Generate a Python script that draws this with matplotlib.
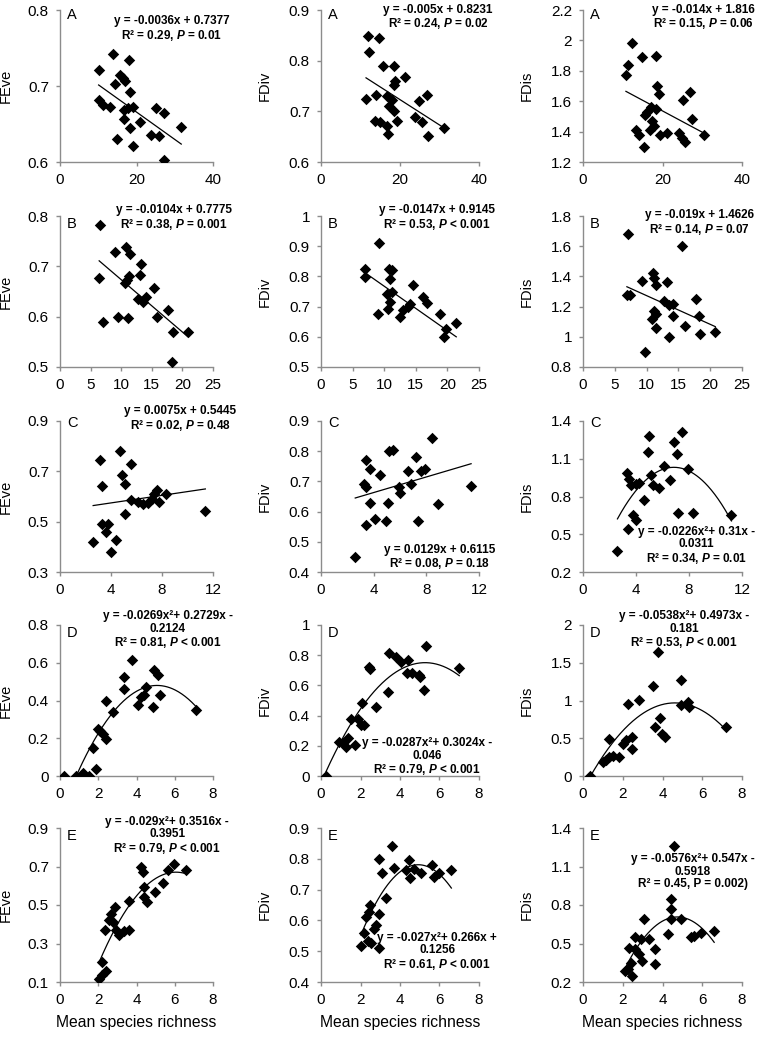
import numpy as np
import matplotlib
matplotlib.use("Agg")
import matplotlib.pyplot as plt
from matplotlib.ticker import FuncFormatter

plt.rcParams["font.family"] = ["Liberation Sans", "DejaVu Sans"]
plt.rcParams["mathtext.fontset"] = "custom"
plt.rcParams["mathtext.rm"] = "Liberation Sans:bold"
plt.rcParams["mathtext.it"] = "Liberation Sans:italic:bold"

# ---- row A ----
a_feve_x = [10.2, 13.9, 18.1, 15.7, 16.5, 17.1, 14.3, 10.1, 11.3, 13.0, 18.2, 16.7, 17.8,
            19.0, 16.7, 21.0, 18.4, 25.0, 27.2, 31.7, 23.9, 25.8, 14.8, 19.0, 27.2]
a_feve_y = [0.721, 0.742, 0.734, 0.714, 0.711, 0.707, 0.703, 0.681, 0.675, 0.673, 0.692, 0.669, 0.671,
            0.672, 0.656, 0.652, 0.645, 0.671, 0.664, 0.646, 0.636, 0.634, 0.630, 0.621, 0.603]
a_fdiv_x = [11.9, 14.6, 12.2, 15.7, 18.4, 18.8, 18.4, 21.3, 11.4, 14.0, 16.7, 17.9, 17.1,
            18.4, 19.2, 15.0, 13.7, 16.8, 16.9, 24.7, 26.8, 23.7, 25.5, 27.0, 31.2]
a_fdiv_y = [0.849, 0.844, 0.817, 0.789, 0.789, 0.759, 0.751, 0.768, 0.724, 0.733, 0.731, 0.723, 0.711,
            0.700, 0.680, 0.678, 0.680, 0.672, 0.655, 0.720, 0.733, 0.689, 0.678, 0.652, 0.668]
a_fdis_x = [12.3, 11.2, 10.8, 14.8, 18.4, 18.6, 19.2, 25.2, 27.0, 27.3, 17.1, 16.1, 18.4,
            15.7, 17.4, 17.8, 16.9, 13.4, 14.0, 19.3, 21.1, 24.1, 24.9, 25.7, 15.4, 30.4]
a_fdis_y = [1.98, 1.84, 1.77, 1.89, 1.90, 1.70, 1.65, 1.61, 1.66, 1.48, 1.56, 1.53, 1.55,
            1.51, 1.47, 1.44, 1.41, 1.41, 1.38, 1.38, 1.39, 1.39, 1.36, 1.33, 1.30, 1.38]

# ---- row B ----
b_feve_x = [6.5, 6.4, 7.1, 9.0, 10.8, 11.4, 10.9, 11.3, 9.5, 11.1, 13.3, 13.0, 12.8,
            13.6, 14.1, 15.3, 15.8, 17.7, 18.4, 20.9, 18.3, 10.6]
b_feve_y = [0.783, 0.677, 0.589, 0.728, 0.738, 0.725, 0.672, 0.680, 0.599, 0.598, 0.705, 0.682, 0.636,
            0.629, 0.639, 0.656, 0.599, 0.613, 0.570, 0.570, 0.510, 0.667]
b_fdiv_x = [9.1, 6.9, 7.0, 9.0, 10.8, 11.3, 10.9, 10.4, 11.2, 10.9, 10.6, 12.5, 13.0,
            13.8, 14.1, 14.5, 16.2, 16.8, 18.9, 19.7, 19.4, 21.4]
b_fdiv_y = [0.911, 0.826, 0.798, 0.677, 0.826, 0.820, 0.792, 0.743, 0.748, 0.715, 0.693, 0.666, 0.688,
            0.699, 0.708, 0.770, 0.732, 0.712, 0.677, 0.627, 0.599, 0.646]
b_fdis_x = [7.0, 6.9, 7.4, 9.3, 11.0, 11.2, 11.5, 13.2, 12.8, 13.5, 14.2, 14.1, 11.2,
            10.8, 11.4, 11.5, 13.5, 9.8, 15.5, 16.0, 17.7, 18.3, 18.4, 20.8]
b_fdis_y = [1.68, 1.28, 1.28, 1.37, 1.42, 1.39, 1.34, 1.36, 1.24, 1.21, 1.22, 1.14, 1.17,
            1.12, 1.15, 1.06, 1.00, 0.90, 1.60, 1.07, 1.25, 1.14, 1.02, 1.03]

# ---- row C ----
c_feve_x = [3.1, 3.3, 3.3, 3.8, 3.6, 2.6, 4.4, 4.0, 4.7, 4.9, 5.1, 5.6, 5.1, 5.6, 6.1,
            6.5, 6.9, 7.2, 7.4, 7.6, 7.8, 8.3, 11.4]
c_feve_y = [0.744, 0.640, 0.492, 0.492, 0.459, 0.419, 0.426, 0.379, 0.781, 0.684, 0.648, 0.730, 0.530,
            0.585, 0.578, 0.571, 0.575, 0.591, 0.611, 0.624, 0.580, 0.611, 0.541]
c_fdiv_x = [3.4, 3.7, 3.3, 3.4, 3.7, 3.4, 4.1, 4.5, 4.9, 5.1, 5.2, 5.5, 5.9, 6.0, 6.6,
            7.2, 6.8, 7.6, 7.9, 7.4, 8.4, 8.9, 11.4, 2.6]
c_fdiv_y = [0.77, 0.74, 0.69, 0.68, 0.63, 0.555, 0.575, 0.72, 0.57, 0.63, 0.80, 0.805, 0.68,
            0.66, 0.735, 0.78, 0.69, 0.735, 0.74, 0.57, 0.845, 0.625, 0.685, 0.45]
c_fdis_x = [3.3, 3.5, 3.6, 4.0, 4.2, 3.4, 3.8, 4.0, 2.6, 4.6, 5.0, 4.9, 5.1, 5.3, 5.7,
            6.1, 6.6, 6.9, 7.1, 7.5, 7.2, 7.9, 8.3, 11.2]
c_fdis_y = [0.99, 0.94, 0.89, 0.90, 0.91, 0.54, 0.65, 0.61, 0.37, 0.77, 1.28, 1.15, 0.97,
            0.89, 0.87, 1.04, 0.93, 1.23, 1.14, 1.31, 0.67, 1.02, 0.67, 0.65]

# ---- row D ----
d_feve_x = [0.2, 0.84, 1.18, 1.5, 1.26, 1.72, 1.89, 1.97, 2.10, 2.27, 2.39, 2.39, 2.78,
            3.37, 3.37, 3.74, 4.07, 4.24, 4.38, 4.51, 4.88, 4.92, 5.13, 5.22, 7.1]
d_feve_y = [0.0, 0.0, 0.018, 0.0, 0.005, 0.147, 0.035, 0.248, 0.239, 0.221, 0.194, 0.40, 0.341,
            0.526, 0.459, 0.614, 0.376, 0.42, 0.429, 0.473, 0.367, 0.562, 0.535, 0.429, 0.35]
d_fdiv_x = [0.25, 0.93, 1.1, 1.26, 1.35, 1.52, 1.73, 1.85, 2.02, 2.19, 2.10, 2.44, 2.47,
            2.78, 3.40, 3.45, 3.79, 4.04, 4.38, 4.33, 4.63, 4.97, 5.02, 5.22, 5.30, 7.0]
d_fdiv_y = [0.0, 0.227, 0.216, 0.194, 0.249, 0.38, 0.205, 0.38, 0.338, 0.338, 0.481, 0.724, 0.71,
            0.459, 0.558, 0.812, 0.79, 0.757, 0.768, 0.68, 0.68, 0.669, 0.658, 0.57, 0.861, 0.713]
d_fdis_x = [0.33, 0.99, 1.16, 1.32, 1.32, 1.52, 1.82, 2.03, 2.15, 2.28, 2.48, 2.48, 2.81,
            3.50, 3.75, 3.63, 3.88, 3.96, 4.13, 4.92, 4.95, 5.28, 5.31, 7.2]
d_fdis_y = [0.0, 0.19, 0.21, 0.255, 0.485, 0.27, 0.25, 0.43, 0.477, 0.954, 0.521, 0.353, 1.007,
            1.192, 1.647, 0.653, 0.764, 0.556, 0.521, 1.272, 0.94, 0.985, 0.918, 0.653]

# ---- row E ----
e_feve_x = [2.02, 2.19, 2.22, 2.39, 2.36, 2.56, 2.69, 2.78, 2.86, 2.95, 3.11, 3.37, 3.62,
            3.62, 4.24, 4.34, 4.38, 4.38, 4.55, 4.97, 5.39, 5.64, 5.98, 6.6]
e_feve_y = [0.117, 0.204, 0.135, 0.156, 0.370, 0.422, 0.451, 0.41, 0.491, 0.370, 0.343, 0.366, 0.370,
            0.521, 0.70, 0.674, 0.596, 0.543, 0.517, 0.570, 0.613, 0.683, 0.712, 0.683]
e_fdiv_x = [2.02, 2.19, 2.27, 2.41, 2.47, 2.36, 2.53, 2.69, 2.78, 2.95, 2.95, 2.95, 3.11,
            3.28, 3.62, 3.70, 4.46, 4.29, 4.49, 4.71, 5.05, 5.64, 5.72, 5.98, 6.6]
e_fdiv_y = [0.516, 0.558, 0.612, 0.628, 0.65, 0.532, 0.525, 0.573, 0.585, 0.62, 0.509, 0.80, 0.753,
            0.672, 0.84, 0.77, 0.797, 0.764, 0.737, 0.767, 0.753, 0.78, 0.742, 0.753, 0.764]
e_fdis_x = [2.10, 2.28, 2.31, 2.44, 2.48, 2.64, 2.64, 2.84, 2.94, 2.97, 3.05, 3.30, 3.63,
            3.63, 4.29, 4.41, 4.41, 4.41, 4.57, 4.95, 5.41, 5.61, 5.94, 6.6]
e_fdis_y = [0.285, 0.298, 0.468, 0.35, 0.245, 0.547, 0.455, 0.416, 0.534, 0.363, 0.691, 0.534, 0.455,
            0.337, 0.573, 0.849, 0.77, 0.691, 1.256, 0.691, 0.547, 0.56, 0.581, 0.60]

# trendline coefficients (highest power first), as printed on the chart
fit_coefs = [
    [-0.0036, 0.7377], [-0.005, 0.8231], [-0.014, 1.816],
    [-0.0104, 0.7775], [-0.0147, 0.9145], [-0.019, 1.4626],
    [0.0075, 0.5445], [0.0129, 0.6115], [-0.0226, 0.31, -0.0311],
    [-0.0269, 0.2729, -0.2124], [-0.0287, 0.3024, -0.046], [-0.0538, 0.4973, -0.181],
    [-0.029, 0.3516, -0.3951], [-0.027, 0.266, 0.1256], [-0.0576, 0.547, -0.5918],
]

fit_labels = [
    "y = -0.0036x + 0.7377\nR² = 0.29, $\\it{P}$ = 0.01",
    "y = -0.005x + 0.8231\nR² = 0.24, $\\it{P}$ = 0.02",
    "y = -0.014x + 1.816\nR² = 0.15, $\\it{P}$ = 0.06",
    "y = -0.0104x + 0.7775\nR² = 0.38, $\\it{P}$ = 0.001",
    "y = -0.0147x + 0.9145\nR² = 0.53, $\\it{P}$ < 0.001",
    "y = -0.019x + 1.4626\nR² = 0.14, $\\it{P}$ = 0.07",
    "y = 0.0075x + 0.5445\nR² = 0.02, $\\it{P}$ = 0.48",
    "y = 0.0129x + 0.6115\nR² = 0.08, $\\it{P}$ = 0.18",
    "y = -0.0226x²+ 0.31x -\n0.0311\nR² = 0.34, $\\it{P}$ = 0.01",
    "y = -0.0269x²+ 0.2729x -\n0.2124\nR² = 0.81, $\\it{P}$ < 0.001",
    "y = -0.0287x²+ 0.3024x -\n0.046\nR² = 0.79, $\\it{P}$ < 0.001",
    "y = -0.0538x²+ 0.4973x -\n0.181\nR² = 0.53, $\\it{P}$ < 0.001",
    "y = -0.029x²+ 0.3516x -\n0.3951\nR² = 0.79, $\\it{P}$ < 0.001",
    "y = -0.027x²+ 0.266x +\n0.1256\nR² = 0.61, $\\it{P}$ < 0.001",
    "y = -0.0576x²+ 0.547x -\n0.5918\nR² = 0.45, P = 0.002)",
]

row_letters = ["A", "B", "C", "D", "E"]
y_names = ["FEve", "FDiv", "FDis"]
x_ticks = [[0, 20, 40], [0, 5, 10, 15, 20, 25], [0, 4, 8, 12], [0, 2, 4, 6, 8], [0, 2, 4, 6, 8]]
y_ticks = [
    [[0.6, 0.7, 0.8], [0.6, 0.7, 0.8, 0.9], [1.2, 1.4, 1.6, 1.8, 2.0, 2.2]],
    [[0.5, 0.6, 0.7, 0.8], [0.5, 0.6, 0.7, 0.8, 0.9, 1.0], [0.8, 1.0, 1.2, 1.4, 1.6, 1.8]],
    [[0.3, 0.5, 0.7, 0.9], [0.4, 0.5, 0.6, 0.7, 0.8, 0.9], [0.2, 0.5, 0.8, 1.1, 1.4]],
    [[0, 0.2, 0.4, 0.6, 0.8], [0, 0.2, 0.4, 0.6, 0.8, 1.0], [0, 0.5, 1.0, 1.5, 2.0]],
    [[0.1, 0.3, 0.5, 0.7, 0.9], [0.4, 0.5, 0.6, 0.7, 0.8, 0.9], [0.2, 0.5, 0.8, 1.1, 1.4]],
]

series = [
    (a_feve_x, a_feve_y), (a_fdiv_x, a_fdiv_y), (a_fdis_x, a_fdis_y),
    (b_feve_x, b_feve_y), (b_fdiv_x, b_fdiv_y), (b_fdis_x, b_fdis_y),
    (c_feve_x, c_feve_y), (c_fdiv_x, c_fdiv_y), (c_fdis_x, c_fdis_y),
    (d_feve_x, d_feve_y), (d_fdiv_x, d_fdiv_y), (d_fdis_x, d_fdis_y),
    (e_feve_x, e_feve_y), (e_fdiv_x, e_fdiv_y), (e_fdis_x, e_fdis_y),
]

# layout (pixels of the 764x1038 figure)
W, H = 764, 1038
col_left = [60, 321, 583]
col_right = [213, 479, 742]
row_top = [10, 216, 421, 625, 828]
row_bottom = [162, 367, 572, 776, 982]
letter_y = [0.965, 0.945, 0.99, 0.945, 0.945]
label_pos = [
    (0.73, 0.875), (0.74, 0.95), (0.76, 0.95),
    (0.745, 0.985), (0.735, 0.985), (0.735, 0.955),
    (0.785, 1.015), (0.75, 0.095), (0.715, 0.175),
    (0.705, 0.965), (0.67, 0.125), (0.635, 0.965),
    (0.70, 0.95), (0.735, 0.195), (0.69, 0.715),
]

AXIS_GREY = "#8c8c8c"


def fmt(v, pos):
    return "%g" % v


fig = plt.figure(figsize=(W / 100, H / 100), dpi=100)

for i, (xs, ys) in enumerate(series):
    r, c = divmod(i, 3)
    ax = fig.add_axes([
        col_left[c] / W,
        1 - row_bottom[r] / H,
        (col_right[c] - col_left[c]) / W,
        (row_bottom[r] - row_top[r]) / H,
    ])
    ax.scatter(xs, ys, marker="D", s=34, color="black", zorder=3, linewidths=0)

    xx = np.linspace(min(xs), max(xs), 200)
    ax.plot(xx, np.polyval(fit_coefs[i], xx), color="black", lw=0.9, zorder=2)

    ax.set_xlim(x_ticks[r][0], x_ticks[r][-1])
    ax.set_ylim(y_ticks[r][c][0], y_ticks[r][c][-1])
    ax.set_xticks(x_ticks[r])
    ax.set_yticks(y_ticks[r][c])
    ax.xaxis.set_major_formatter(FuncFormatter(fmt))
    ax.yaxis.set_major_formatter(FuncFormatter(fmt))

    for side in ["top", "right"]:
        ax.spines[side].set_visible(False)
    for side in ["left", "bottom"]:
        ax.spines[side].set_color(AXIS_GREY)
        ax.spines[side].set_linewidth(1.0)
    ax.tick_params(direction="out", length=3, width=1.0, color=AXIS_GREY,
                   labelsize=11, pad=5)

    ax.set_ylabel(y_names[c], fontsize=10.5)
    ax.yaxis.set_label_coords(-0.31, 0.5)
    if r == 4:
        ax.set_xlabel("Mean species richness", fontsize=11.3, labelpad=6)

    ax.text(0.045, letter_y[r], row_letters[r], transform=ax.transAxes,
            ha="left", va="center", fontsize=10.5)
    lx, ly = label_pos[i]
    ax.text(lx, ly, fit_labels[i], transform=ax.transAxes, ha="center", va="center",
            fontsize=8.5, fontweight="bold", linespacing=1.05, multialignment="center")

fig.savefig("out.png", dpi=100)
